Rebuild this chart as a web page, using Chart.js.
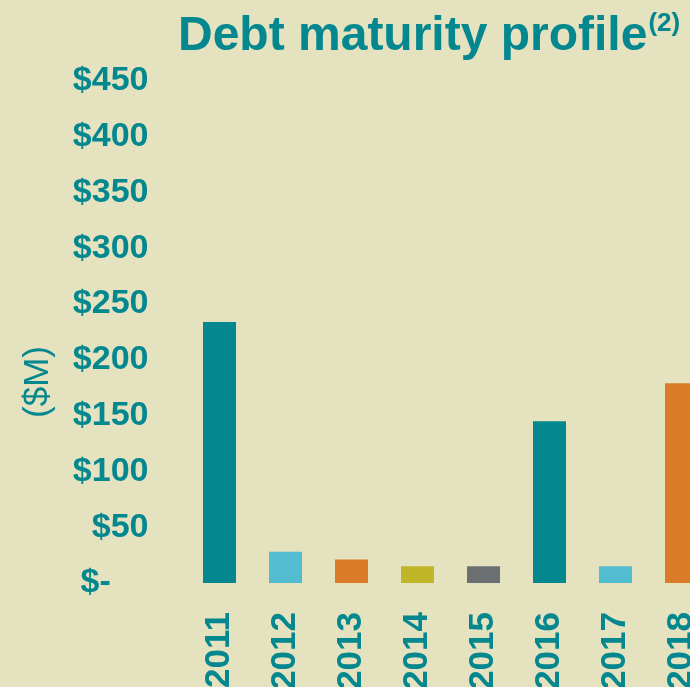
<!DOCTYPE html>
<html>
<head>
<meta charset="utf-8">
<script src="https://cdn.jsdelivr.net/npm/chart.js@4.4.1/dist/chart.umd.min.js"></script>
<style>
  html, body { margin: 0; padding: 0; background: #E4E2BF; overflow: hidden; }
  #wrap { position: absolute; left: 0; top: 0; width: 760px; height: 687px; }
</style>
</head>
<body>
<div id="wrap"><canvas id="debt" width="760" height="687"></canvas></div>
<script>
const years = ['2011', '2012', '2013', '2014', '2015', '2016', '2017', '2018'];
const maturities = [234, 28, 21, 15, 15, 145, 15, 179];
const barColors = ['#04878F', '#52BDD1', '#DB7B28', '#C0B628', '#6C7073', '#04878F', '#52BDD1', '#DB7B28'];
const yTicks = [0, 50, 100, 150, 200, 250, 300, 350, 400, 450];

const teal = '#04878F';
const sans = "'Liberation Sans', Arial, sans-serif";

// title with superscript + rotated y title
const textPlugin = {
  id: 'extraText',
  afterDraw(chart) {
    const ctx = chart.ctx;
    ctx.save();
    ctx.fillStyle = teal;
    ctx.textBaseline = 'alphabetic';
    ctx.textAlign = 'left';
    ctx.font = 'bold 48px ' + sans;
    const main = 'Debt maturity profile';
    ctx.fillText(main, 178, 50);
    const w = ctx.measureText(main).width;
    ctx.font = 'bold 26px ' + sans;
    ctx.fillText('(2)', 178 + w + 1, 31);

    ctx.translate(38, 382);
    ctx.rotate(-Math.PI / 2);
    ctx.textAlign = 'center';
    ctx.textBaseline = 'middle';
    ctx.font = '35px ' + sans;
    ctx.fillText('($M)', 0, 0);
    ctx.restore();
  }
};

new Chart(document.getElementById('debt'), {
  type: 'bar',
  data: {
    labels: years,
    datasets: [{
      data: maturities,
      backgroundColor: barColors,
      borderWidth: 0,
      barPercentage: 0.5,
      categoryPercentage: 1.0
    }]
  },
  options: {
    responsive: false,
    animation: false,
    layout: { padding: { top: 81, left: 0, right: 45.5, bottom: 0 } },
    plugins: {
      legend: { display: false },
      tooltip: { enabled: false }
    },
    scales: {
      x: {
        grid: { display: false, drawTicks: false },
        border: { display: false },
        ticks: {
          color: teal,
          font: { family: sans, size: 35, weight: 'bold' },
          minRotation: 90,
          maxRotation: 90,
          autoSkip: false,
          padding: 29
        },
        afterFit(scale) { scale.height = 104; }
      },
      y: {
        min: 0,
        max: 450,
        grid: { display: false, drawTicks: false },
        border: { display: false },
        afterBuildTicks(scale) { scale.ticks = yTicks.map(v => ({ value: v })); },
        ticks: {
          color: teal,
          font: { family: sans, size: 34, weight: 'bold' },
          padding: 38,
          callback: v => v === 0 ? '$-    ' : '$' + v
        },
        afterFit(scale) { scale.width = 186.5; }
      }
    }
  },
  plugins: [textPlugin]
});
</script>
</body>
</html>
